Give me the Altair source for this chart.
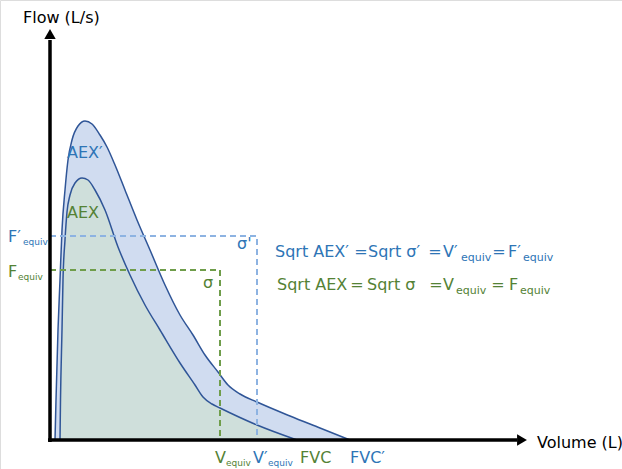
import altair as alt
import pandas as pd

# ---- curve data (Volume, Flow in arbitrary units) ----
outer_vol = [5, 6, 8, 10, 12, 15, 18, 22, 28, 35, 42, 50, 57, 65, 75, 87, 100, 115, 130, 143, 155, 168, 178, 190, 207, 240, 270, 300]
outer_flow = [0, 40, 110, 160, 210, 250, 280, 300, 314, 319, 316, 305, 293, 275, 250, 220, 190, 155, 125, 105, 85, 68, 55, 46, 38, 24, 12, 0]

inner_vol = [10, 10.5, 12, 13, 15, 17, 20, 25, 32, 38, 45, 55, 68, 80, 95, 110, 130, 145, 153, 162, 170, 207, 247]
inner_flow = [0, 40, 110, 160, 200, 228, 245, 257, 262, 260, 250, 230, 193, 165, 135, 110, 77, 55, 43, 36, 32, 15, 0]

# equivalent squares (side lengths)
v_equiv_prime = 207
f_equiv_prime = 204
v_equiv = 170
f_equiv = 170

BLUE = "#2e75b6"
GREEN = "#548235"
FONT = "DejaVu Sans"

xs = alt.Scale(domain=[-50, 572], range=[0, 622])
ys = alt.Scale(domain=[-29, 440], range=[469, 0])

outer = pd.DataFrame({"V": outer_vol, "F": outer_flow})
outer["Z"] = 0
inner = pd.DataFrame({"V": inner_vol, "F": inner_flow})
inner["Z"] = 0

def area(df, fill):
    return alt.Chart(df).mark_area(fill=fill, stroke="#2f5597", strokeWidth=1.5, interpolate="monotone").encode(
        x=alt.X("V:Q", scale=xs, axis=None),
        y=alt.Y("F:Q", scale=ys, axis=None, stack=None),
        y2="Z:Q",
    )

outer_area = area(outer, "#d0dcf0")
inner_area = area(inner, "#cfdfdb")

squares = pd.DataFrame({
    "V0": [0, 0], "V1": [v_equiv_prime, v_equiv],
    "F0": [0, 0], "F1": [f_equiv_prime, f_equiv],
    "c": ["#8db3e2", "#6f9d4a"],
})
sq = alt.Chart(squares).mark_rect(filled=False, strokeWidth=2, strokeDash=[6, 4]).encode(
    x=alt.X("V0:Q", scale=xs, axis=None), x2="V1:Q",
    y=alt.Y("F0:Q", scale=ys, axis=None), y2="F1:Q",
    stroke=alt.Color("c:N", scale=None),
)

axes_df = pd.DataFrame({"V0": [0, -2], "V1": [0, 467], "F0": [-2, 0], "F1": [400, 0]})
axes = alt.Chart(axes_df).mark_rule(color="black", strokeWidth=3.5).encode(
    x=alt.X("V0:Q", scale=xs, axis=None), x2="V1:Q",
    y=alt.Y("F0:Q", scale=ys, axis=None), y2="F1:Q",
)
arrows_df = pd.DataFrame({"V": [0, 472], "F": [406, 0], "s": ["triangle-up", "triangle-right"]})
arrows = alt.Chart(arrows_df).mark_point(filled=True, color="black", opacity=1, size=130).encode(
    x=alt.X("V:Q", scale=xs, axis=None),
    y=alt.Y("F:Q", scale=ys, axis=None),
    shape=alt.Shape("s:N", scale=None),
)

# ---- annotations: text, position, size, colour, alignment ----
ann = [
    ("Flow (L/s)", -27, 422, 16, "black", "left"),
    ("Volume (L)", 487, -3, 16, "black", "left"),
    ("AEX′", 17, 287, 16, BLUE, "left"),
    ("AEX", 17, 227, 16, GREEN, "left"),
    ("σ'", 187, 196, 16, BLUE, "left"),
    ("σ", 153, 157, 16, GREEN, "left"),
    ("F′", -42, 203, 16, BLUE, "left"), ("equiv", -27, 198, 9, BLUE, "left"),
    ("F", -42, 168, 16, GREEN, "left"), ("equiv", -32, 163, 9, GREEN, "left"),
    ("V", 165, -18, 16, GREEN, "left"), ("equiv", 176, -23, 9, GREEN, "left"),
    ("V′", 203, -18, 16, BLUE, "left"), ("equiv", 218, -23, 9, BLUE, "left"),
    ("FVC", 250, -18, 16, GREEN, "left"),
    ("FVC′", 300, -18, 16, BLUE, "left"),
    # blue equation
    ("Sqrt AEX′", 225, 188, 16, BLUE, "left"), ("=", 311, 188, 16, BLUE, "center"),
    ("Sqrt σ′", 318, 188, 16, BLUE, "left"),
    ("=", 385, 188, 16, BLUE, "center"), ("V′", 393, 188, 16, BLUE, "left"), ("equiv", 411, 182, 11, BLUE, "left"),
    ("=", 449, 188, 16, BLUE, "center"), ("F′", 458, 188, 16, BLUE, "left"), ("equiv", 473, 182, 11, BLUE, "left"),
    # green equation
    ("Sqrt AEX", 227, 155, 16, GREEN, "left"), ("=", 307, 155, 16, GREEN, "center"),
    ("Sqrt σ", 317, 155, 16, GREEN, "left"),
    ("=", 386, 155, 16, GREEN, "center"), ("V", 393, 155, 16, GREEN, "left"), ("equiv", 406, 149, 11, GREEN, "left"),
    ("=", 448, 155, 16, GREEN, "center"), ("F", 459, 155, 16, GREEN, "left"), ("equiv", 470, 149, 11, GREEN, "left"),
]
ann_df = pd.DataFrame(ann, columns=["t", "V", "F", "sz", "c", "al"])

def text_layer(align):
    d = ann_df[ann_df["al"] == align]
    return alt.Chart(d).mark_text(align=align, baseline="middle", font=FONT).encode(
        x=alt.X("V:Q", scale=xs, axis=None),
        y=alt.Y("F:Q", scale=ys, axis=None),
        text="t:N",
        size=alt.Size("sz:Q", scale=None),
        color=alt.Color("c:N", scale=None),
    )

chart = alt.layer(outer_area, inner_area, sq, axes, arrows, text_layer("left"), text_layer("center")).properties(
    width=622, height=469, padding=0, autosize="none",
).configure_view(stroke=None).configure(background="white")

chart.save("out.html", embed_options={"renderer": "svg", "actions": False})
